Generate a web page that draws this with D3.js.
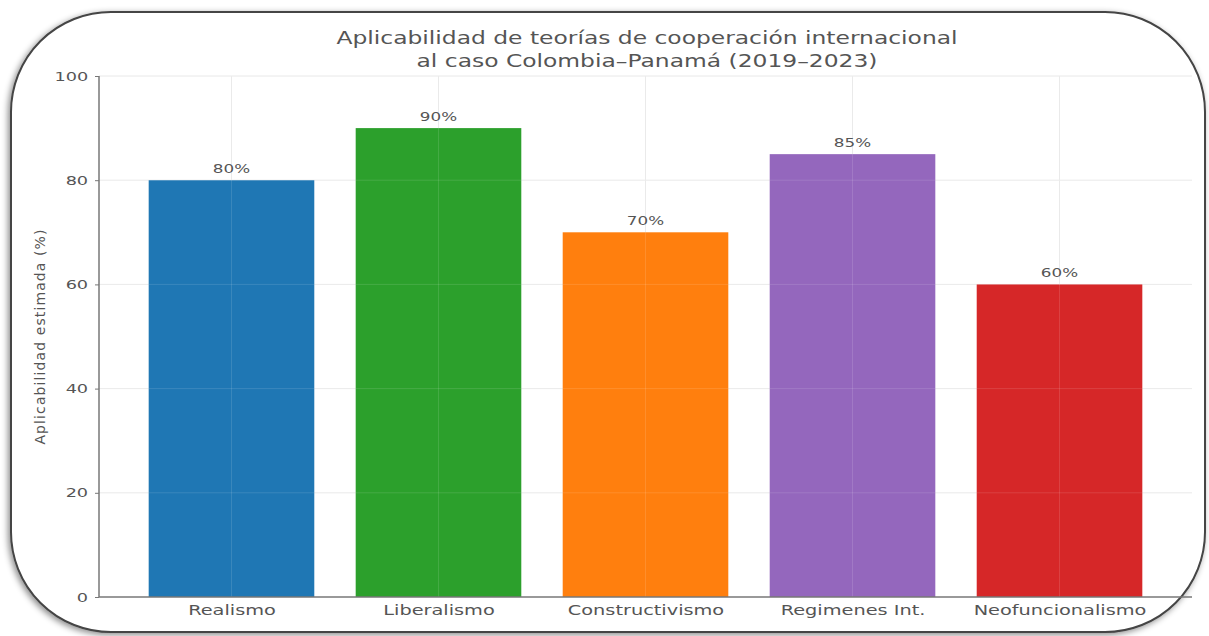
<!DOCTYPE html>
<html>
<head>
<meta charset="utf-8" />
<title>Aplicabilidad de teorías</title>
<script src="https://cdnjs.cloudflare.com/ajax/libs/d3/7.8.5/d3.min.js"></script>
<style>
  body { margin: 0; background: #fff; }
  text { font-family: "DejaVu Sans", sans-serif; }
</style>
</head>
<body>
<div id="chart"></div>
<script>
var categories = ["Realismo", "Liberalismo", "Constructivismo", "Regimenes Int.", "Neofuncionalismo"];
var values = [80, 90, 70, 85, 60];
var colors = ["#1f77b4", "#2ca02c", "#ff7f0e", "#9467bd", "#d62728"];
var yTicks = [0, 20, 40, 60, 80, 100];

var width = 1209, height = 636;
var mLeft = 99, mRight = 1192, mTop = 76, mBottom = 597;

var svg = d3.select("#chart").append("svg")
  .attr("width", width)
  .attr("height", height);

// widen text a bit, the source picture is stretched sideways
function wide(sel, sx, px, py) {
  sel.attr("x", 0).attr("y", 0)
    .attr("transform", "translate(" + px + "," + py + ") scale(" + sx + ",1)");
}

// frame with shadow
var defs = svg.append("defs");
var f = defs.append("filter").attr("id", "sh").attr("x", "-5%").attr("y", "-5%").attr("width", "110%").attr("height", "110%");
f.append("feDropShadow").attr("dx", -2).attr("dy", 2).attr("stdDeviation", 3).attr("flood-color", "#000").attr("flood-opacity", 0.45);

svg.append("rect")
  .attr("x", 11).attr("y", 12).attr("width", 1194).attr("height", 620)
  .attr("rx", 100).attr("ry", 100)
  .attr("fill", "#fff").attr("stroke", "#444").attr("stroke-width", 2)
  .attr("filter", "url(#sh)");

// scales
var x = d3.scaleLinear().domain([-0.64, 4.64]).range([mLeft, mRight]);
var y = d3.scaleLinear().domain([0, 100]).range([mBottom, mTop]);
var bw = x(0.4) - x(-0.4);

// grid
var grid = svg.append("g").attr("stroke", "#e8e8e8").attr("stroke-width", 1);
grid.selectAll("line.h").data(yTicks.slice(1)).enter().append("line").attr("class", "h")
  .attr("x1", mLeft).attr("x2", mRight)
  .attr("y1", function(d){ return y(d); }).attr("y2", function(d){ return y(d); });
grid.selectAll("line.v").data(categories).enter().append("line").attr("class", "v")
  .attr("x1", function(d, i){ return x(i); }).attr("x2", function(d, i){ return x(i); })
  .attr("y1", mTop).attr("y2", mBottom);

// bars
svg.selectAll("rect.bar").data(values).enter().append("rect").attr("class", "bar")
  .attr("x", function(d, i){ return x(i) - bw / 2; })
  .attr("y", function(d){ return y(d); })
  .attr("width", bw)
  .attr("height", function(d){ return y(0) - y(d); })
  .attr("fill", function(d, i){ return colors[i]; });

// faint grid over bars
var g2 = svg.append("g").attr("stroke", "#ffffff").attr("stroke-opacity", 0.12).attr("stroke-width", 1);
g2.selectAll("line.h").data(yTicks.slice(1)).enter().append("line").attr("class", "h")
  .attr("x1", mLeft).attr("x2", mRight)
  .attr("y1", function(d){ return y(d); }).attr("y2", function(d){ return y(d); });
g2.selectAll("line.v").data(categories).enter().append("line").attr("class", "v")
  .attr("x1", function(d, i){ return x(i); }).attr("x2", function(d, i){ return x(i); })
  .attr("y1", mTop).attr("y2", mBottom);

// value labels
svg.selectAll("text.lbl").data(values).enter().append("text").attr("class", "lbl")
  .attr("text-anchor", "middle")
  .attr("font-size", 12)
  .attr("fill", "#555")
  .text(function(d){ return d + "%"; })
  .each(function(d, i){ wide(d3.select(this), 1.4, x(i), y(d) - 7); });

// axes
var yAxis = svg.append("g").attr("transform", "translate(" + mLeft + ",0)")
  .call(d3.axisLeft(y).tickValues(yTicks).tickSize(4).tickPadding(4));
var xAxis = svg.append("g").attr("transform", "translate(0," + mBottom + ")")
  .call(d3.axisBottom(x).tickValues([0, 1, 2, 3, 4]).tickSize(0).tickPadding(8)
    .tickFormat(function(d){ return categories[d]; }));
[yAxis, xAxis].forEach(function(a){
  a.select(".domain").attr("stroke", "#777").attr("stroke-width", 1.5);
  a.selectAll(".tick line").attr("stroke", "#777");
  a.selectAll(".tick text").attr("fill", "#555")
    .attr("font-family", "DejaVu Sans, sans-serif");
});
xAxis.selectAll(".tick text").attr("font-size", 14).attr("transform", "scale(1.38,1)");
yAxis.selectAll(".tick text").attr("font-size", 13).attr("transform", "scale(1.36,1)");
xAxis.select(".domain").attr("d", "M" + mLeft + ",0H" + mRight);
yAxis.select(".domain").attr("d", "M0," + mTop + "V" + mBottom);

// title
var t1 = svg.append("text").attr("text-anchor", "middle")
  .attr("font-size", 18).attr("fill", "#555")
  .text("Aplicabilidad de teorías de cooperación internacional");
wide(t1, 1.3, 647, 44);
var t2 = svg.append("text").attr("text-anchor", "middle")
  .attr("font-size", 18).attr("fill", "#555")
  .text("al caso Colombia–Panamá (2019–2023)");
wide(t2, 1.3, 647, 67);

// y label
svg.append("text")
  .attr("transform", "translate(45," + ((mTop + mBottom) / 2) + ") rotate(-90)")
  .attr("text-anchor", "middle")
  .attr("font-size", 14).attr("letter-spacing", 1.1).attr("fill", "#555")
  .text("Aplicabilidad estimada (%)");
</script>
</body>
</html>
